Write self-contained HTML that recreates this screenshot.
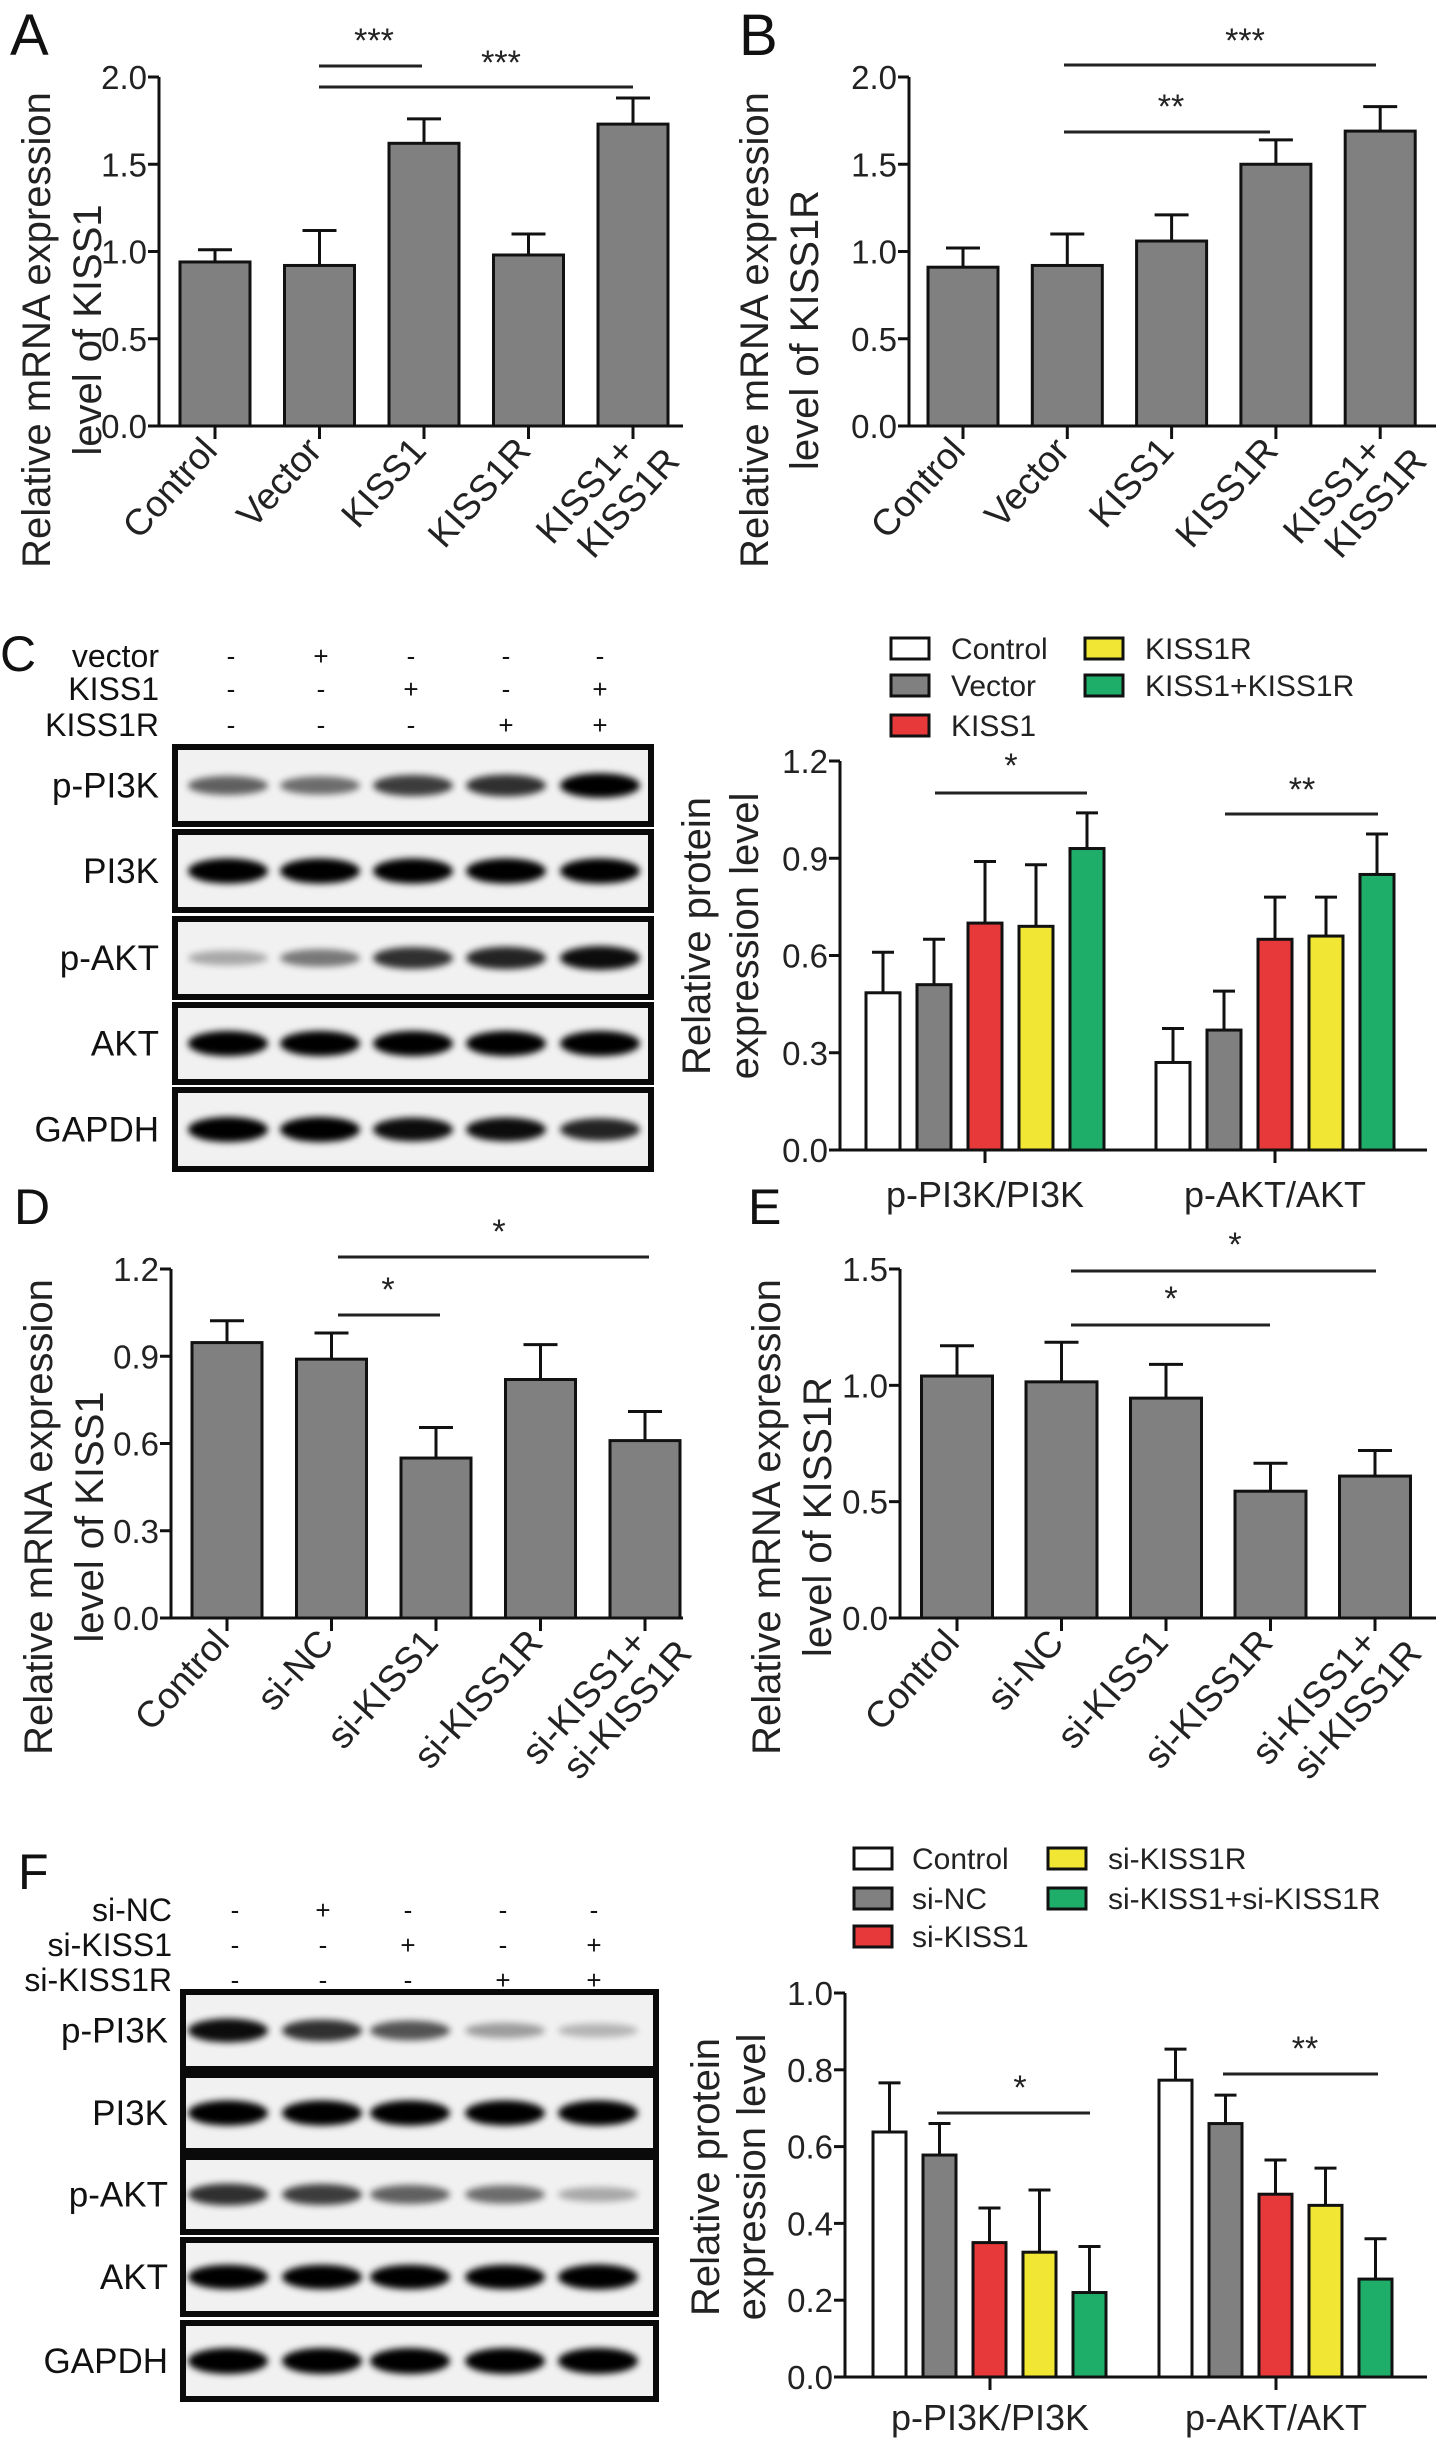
<!DOCTYPE html>
<html><head><meta charset="utf-8"><style>
html,body{margin:0;padding:0;background:#fff}
svg{display:block;font-family:"Liberation Sans",Arial,sans-serif}
</style></head><body>
<svg id="fig" width="1441" height="2445" viewBox="0 0 1441 2445" xmlns="http://www.w3.org/2000/svg">
<defs><filter id="blur" x="-20%" y="-50%" width="140%" height="200%"><feGaussianBlur stdDeviation="3.5"/></filter></defs>
</svg>
<script>
// ---- data ----
const catsA = ["Control","Vector","KISS1","KISS1R","KISS1+|KISS1R"];
const valsA = [0.94,0.92,1.62,0.98,1.73];
const errA  = [0.07,0.20,0.14,0.12,0.15];
const valsB = [0.91,0.92,1.06,1.50,1.69];
const errB  = [0.11,0.18,0.15,0.14,0.14];
const ticksAB = [0,0.5,1.0,1.5,2.0];
const catsD = ["Control","si-NC","si-KISS1","si-KISS1R","si-KISS1+|si-KISS1R"];
const valsD = [0.947,0.89,0.55,0.82,0.61];
const errD  = [0.075,0.09,0.105,0.12,0.10];
const ticksD = [0,0.3,0.6,0.9,1.2];
const valsE = [1.04,1.015,0.945,0.545,0.61];
const errE  = [0.13,0.17,0.145,0.12,0.11];
const ticksE = [0,0.5,1.0,1.5];
const groupsCF = ["p-PI3K/PI3K","p-AKT/AKT"];
const seriesC = ["Control","Vector","KISS1","KISS1R","KISS1+KISS1R"];
const cControl = [0.485,0.27], cVector=[0.51,0.37], cKiss1=[0.70,0.65], cKiss1r=[0.69,0.66], cBoth=[0.93,0.85];
const eControl = [0.125,0.105], eVector=[0.14,0.12], eKiss1=[0.19,0.13], eKiss1r=[0.19,0.12], eBoth=[0.11,0.125];
const ticksC = [0,0.3,0.6,0.9,1.2];
const seriesF = ["Control","si-NC","si-KISS1","si-KISS1R","si-KISS1+si-KISS1R"];
const fControl=[0.638,0.773], fSiNC=[0.578,0.66], fSiK=[0.35,0.476], fSiKR=[0.325,0.447], fBoth=[0.22,0.255];
const gControl=[0.128,0.081], gSiNC=[0.082,0.074], gSiK=[0.09,0.089], gSiKR=[0.162,0.097], gBoth=[0.12,0.105];
const ticksF = [0,0.2,0.4,0.6,0.8,1.0];
const fills = ["#ffffff","#808080","#e8393a","#f0e633","#1fae6a"];

const NS="http://www.w3.org/2000/svg";
const svg=document.getElementById('fig');
function mk(tag,attrs,parent,text){const e=document.createElementNS(NS,tag);for(const k in attrs)e.setAttribute(k,attrs[k]);if(text!==undefined)e.textContent=text;(parent||svg).appendChild(e);return e;}
function fmt(v,d){return v.toFixed(d);}

function yAxis(g,ax,y0,yTop,max,ticks,dec){
  const sy=v=>y0-(v/max)*(y0-yTop);
  const l=mk('line',{x1:ax,y1:y0,x2:ax,y2:yTop,stroke:'#111','stroke-width':3},g);
  
  
  ticks.forEach(t=>{
    mk('line',{x1:ax-11,y1:sy(t),x2:ax,y2:sy(t),stroke:'#111','stroke-width':3},g);
    const tx=mk('text',{x:ax-12,y:sy(t)+12,'text-anchor':'end','font-size':33,fill:'#222'},g,fmt(t,1));
    
    
  });
  return sy;
}
function errBar(g,cx,yv,ye,cap){
  mk('line',{x1:cx,y1:yv,x2:cx,y2:ye,stroke:'#111','stroke-width':3},g);
  mk('line',{x1:cx-cap/2,y1:ye,x2:cx+cap/2,y2:ye,stroke:'#111','stroke-width':3},g);
}
function simpleChart(name,cats,vals,errs,ticks,max,ax,y0,yTop,xEnd,c0,step,w){
  const g=mk('g',{});
  
  
  const sy=yAxis(g,ax,y0,yTop,max,ticks,1);
  vals.forEach((v,i)=>{
    const cx=c0+step*i;
    errBar(g,cx,sy(v),sy(v+errs[i]),34);
    const r=mk('rect',{x:cx-w/2,y:sy(v),width:w,height:y0-sy(v),fill:'#808080',stroke:'#111','stroke-width':3},g);
    
    
    mk('line',{x1:cx,y1:y0,x2:cx,y2:y0+13,stroke:'#111','stroke-width':3},g);
    const parts=cats[i].split('|');
    const t=mk('text',{transform:`translate(${cx+4},${y0+26}) rotate(-48)`,'text-anchor':'end','font-size':37,fill:'#222'},g);
    
    
    parts.forEach((p,k)=>{mk('tspan',{x:k?22:0,dy:k?40:0},t,p);});
  });
  const xa=mk('line',{x1:ax,y1:y0,x2:xEnd,y2:y0,stroke:'#111','stroke-width':3},g);
  
  
  return g;
}
function groupChart(name,series,vals,errs,ticks,max,ax,y0,yTop,xEnd,starts,step,w,tickX,labY){
  const g=mk('g',{});
  
  
  const sy=yAxis(g,ax,y0,yTop,max,ticks,1);
  groupsCF.forEach((gr,j)=>{
    series.forEach((s,i)=>{
      const x=starts[j]+step*i, cx=x+w/2, v=vals[i][j];
      errBar(g,cx,sy(v),sy(v+errs[i][j]),22);
      const r=mk('rect',{x:x,y:sy(v),width:w,height:y0-sy(v),fill:fills[i],stroke:'#111','stroke-width':3},g);
      
      
    });
    mk('line',{x1:tickX[j],y1:y0,x2:tickX[j],y2:y0+13,stroke:'#111','stroke-width':3},g);
    const t=mk('text',{x:tickX[j],y:labY,'text-anchor':'middle','font-size':36,fill:'#222'},g,gr);
    
    
  });
  const xa=mk('line',{x1:ax,y1:y0,x2:xEnd,y2:y0,stroke:'#111','stroke-width':3},g);
  
  
}
function ytitle(name,x1,x2,cy,l1,l2){
  [[x1,l1],[x2,l2]].forEach(([x,s])=>{
    const t=mk('text',{transform:`translate(${x},${cy}) rotate(-90)`,'text-anchor':'middle','dominant-baseline':'central','font-size':40,fill:'#222'},svg,s);
    
    
  });
}
function letter(s,x,y,fs){const t=mk('text',{x:x,y:y,'font-size':fs,fill:'#111'},svg,s);
  
  }
function sig(x1,x2,y,sx,sy,s){
  const l=mk('line',{x1:x1,y1:y,x2:x2,y2:y,stroke:'#222','stroke-width':3});
  
  
  const t=mk('text',{x:sx,y:sy+16,'text-anchor':'middle','font-size':34,fill:'#222'},svg,s);
  
  
}
function legend(name,series,x1,x2,tx1,tx2,rows){
  const pos=[[x1,tx1,rows[0]],[x1,tx1,rows[1]],[x1,tx1,rows[2]],[x2,tx2,rows[0]],[x2,tx2,rows[1]]];
  series.forEach((s,i)=>{
    const [bx,tx,y]=pos[i];
    const r=mk('rect',{x:bx,y:y,width:38,height:21,fill:fills[i],stroke:'#111','stroke-width':3});
    
    
    const t=mk('text',{x:tx,y:y+21,'font-size':30,fill:'#222'},svg,s);
    
    
  });
}
function blot(name,x1,x2,rows,labels,labelX,cols,intens){
  rows.forEach(([y1,y2],r)=>{
    const g=mk('g',{});
    
    
    mk('rect',{x:x1,y:y1,width:x2-x1,height:y2-y1,fill:'#f1f1f1',stroke:'#0a0a0a','stroke-width':6},g);
    const cy=(y1+y2)/2;
    cols.forEach((cx,c)=>{
      const a=intens[r][c];
      mk('ellipse',{cx:cx,cy:cy,rx:40,ry:6+7*a,fill:'#000',opacity:Math.min(1,0.1+a),filter:'url(#blur)'},g);
    });
    const t=mk('text',{x:labelX,y:cy+12,'text-anchor':'end','font-size':35,fill:'#111'},svg,labels[r]);
    
    
  });
}
function header(labels,ys,labelX,cols,signs){
  labels.forEach((l,r)=>{
    const t=mk('text',{x:labelX,y:ys[r]+11,'text-anchor':'end','font-size':32,fill:'#111'},svg,l);
    
    
    cols.forEach((cx,c)=>{
      const s=mk('text',{x:cx,y:ys[r]+9,'text-anchor':'middle','font-size':26,fill:'#111'},svg,signs[r][c]);
      
      
    });
  });
}

// ---- A & B ----
letter('A',10,55,58); letter('B',739,55,58);
simpleChart('chart-a',catsA,valsA,errA,ticksAB,2.0,159,426,77,683,215,104.5,70);
simpleChart('chart-b',catsA,valsB,errB,ticksAB,2.0,909,426,77,1436,963,104.3,70);
ytitle('y-axis-title',37,88,330,'Relative mRNA expression','level of KISS1');
ytitle('y-axis-title',755,805,330,'Relative mRNA expression','level of KISS1R');
sig(319,422,66,374,36,'***'); sig(319,633,87,501,58,'***');
sig(1064,1376,65,1245,36,'***'); sig(1064,1270,132,1171,102,'**');

// ---- C ----
letter('C',0,671,50);
const signsC=[['-','+','-','-','-'],['-','-','+','-','+'],['-','-','-','+','+']];
header(['vector','KISS1','KISS1R'],[656,689,725],159,[231,321,411,506,600],signsC);
blot('blot-c',175,651,[[747,824],[832,910],[919,997],[1005,1082],[1090,1169]],['p-PI3K','PI3K','p-AKT','AKT','GAPDH'],159,[228,320,413,506,600],
  [[.5,.45,.65,.7,.9],[.95,.95,.95,.95,.95],[.2,.4,.7,.75,.85],[.95,.95,.95,.95,.95],[.95,.95,.85,.85,.75]]);
groupChart('chart-c',seriesC,[cControl,cVector,cKiss1,cKiss1r,cBoth],[eControl,eVector,eKiss1,eKiss1r,eBoth],ticksC,1.2,840,1150,761,1427,[866,1156],51,34,[985,1275],1207);
ytitle('y-axis-title',697,745,936,'Relative protein','expression level');
legend('legend-c',seriesC,891,1085,951,1145,[638,675,715]);
sig(935,1087,793,1011,761,'*'); sig(1225,1378,814,1302,785,'**');

// ---- D & E ----
letter('D',14,1224,50); letter('E',748,1224,50);
simpleChart('chart-d',catsD,valsD,errD,ticksD,1.2,171,1618,1269,683,227,104.5,70);
simpleChart('chart-e',catsD,valsE,errE,ticksE,1.5,900,1618,1269,1436,957,104.5,71);
ytitle('y-axis-title',39,90,1517,'Relative mRNA expression','level of KISS1');
ytitle('y-axis-title',767,818,1517,'Relative mRNA expression','level of KISS1R');
sig(338,649,1257,499,1227,'*'); sig(338,440,1315,388,1285,'*');
sig(1071,1376,1271,1235,1240,'*'); sig(1071,1270,1325,1171,1294,'*');

// ---- F ----
letter('F',18,1889,50);
const signsF=[['-','+','-','-','-'],['-','-','+','-','+'],['-','-','-','+','+']];
header(['si-NC','si-KISS1','si-KISS1R'],[1910,1945,1980],172,[235,323,408,503,594],signsF);
blot('blot-f',183,656,[[1992,2069],[2075,2151],[2157,2232],[2240,2314],[2323,2399]],['p-PI3K','PI3K','p-AKT','AKT','GAPDH'],168,[228,322,410,505,598],
  [[.85,.7,.55,.25,.15],[.95,.95,.95,.95,.95],[.7,.65,.5,.45,.2],[.9,.9,.9,.9,.95],[1,1,1,1,1]]);
groupChart('chart-f',seriesF,[fControl,fSiNC,fSiK,fSiKR,fBoth],[gControl,gSiNC,gSiK,gSiKR,gBoth],ticksF,1.0,845,2377,1993,1427,[873,1159],50,33,[990,1276],2430);
ytitle('y-axis-title',706,752,2177,'Relative protein','expression level');
legend('legend-f',seriesF,854,1048,912,1108,[1848,1888,1926]);
sig(937,1090,2113,1020,2083,'*'); sig(1223,1378,2074,1305,2044,'**');
</script>
</body></html>
